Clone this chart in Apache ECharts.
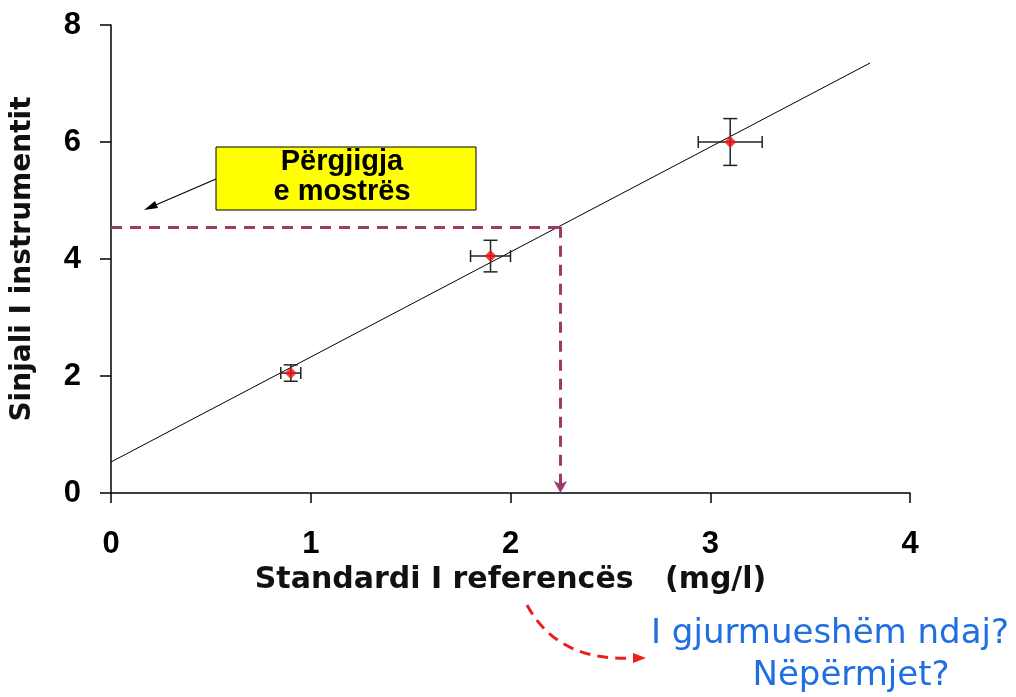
<!DOCTYPE html>
<html>
<head>
<meta charset="utf-8">
<script src="https://cdn.jsdelivr.net/npm/echarts@6/dist/echarts.min.js"></script>
<style>
  html, body { margin: 0; padding: 0; background: #fff; }
  #chart { width: 1016px; height: 697px; }
</style>
</head>
<body>
<div id="chart"></div>
<script>
// standards: concentration, signal, and their uncertainties
var standardX = [0.9, 1.9, 3.1];
var signalY = [2.05, 4.05, 6.0];
var errX = [0.05, 0.1, 0.16];
var errY = [0.14, 0.27, 0.4];

// calibration line end points
var fitLine = [[0, 0.53], [3.8, 7.35]];

// sample response read back on the line
var sampleSignal = 4.55;
var sampleConc = 2.25;

var xTicks = [0, 1, 2, 3, 4];
var yTicks = [0, 2, 4, 6, 8];

var chart = echarts.init(document.getElementById('chart'));

var points = standardX.map(function (x, i) {
  return [x, signalY[i], errX[i], errY[i]];
});

var tickFont = { fontFamily: 'Liberation Sans', fontWeight: 'bold', fontSize: 31, color: '#000' };
var dashColor = '#9b3a6b';

chart.setOption({
  animation: false,
  grid: { left: 111, right: 106, top: 25, bottom: 204 },
  xAxis: {
    type: 'value',
    min: xTicks[0],
    max: xTicks[xTicks.length - 1],
    interval: 1,
    name: 'Standardi I referencës   (mg/l)',
    nameLocation: 'middle',
    nameGap: 70,
    nameTextStyle: { fontFamily: 'DejaVu Sans', fontWeight: 'bold', fontSize: 30, color: '#111' },
    axisLine: { lineStyle: { color: '#000', width: 1.5 } },
    axisTick: { show: true, length: 10, lineStyle: { color: '#000', width: 1.5 } },
    axisLabel: Object.assign({ margin: 36 }, tickFont),
    splitLine: { show: false }
  },
  yAxis: {
    type: 'value',
    min: yTicks[0],
    max: yTicks[yTicks.length - 1],
    interval: 2,
    name: 'Sinjali I instrumentit',
    nameLocation: 'middle',
    nameGap: 74,
    nameTextStyle: { fontFamily: 'DejaVu Sans', fontWeight: 'bold', fontSize: 28, color: '#111' },
    axisLine: { show: true, lineStyle: { color: '#000', width: 1.5 } },
    axisTick: { show: true, length: 11, lineStyle: { color: '#000', width: 1.5 } },
    axisLabel: Object.assign({ margin: 30 }, tickFont),
    splitLine: { show: false }
  },
  series: [
    {
      type: 'line',
      data: fitLine,
      symbol: 'none',
      lineStyle: { color: '#000', width: 1 },
      z: 2,
      markLine: {
        silent: true,
        symbol: ['none', 'none'],
        label: { show: false },
        lineStyle: { color: dashColor, width: 3, type: [11, 8] },
        data: [
          [{ coord: [0, sampleSignal], symbol: 'none' }, { coord: [sampleConc, sampleSignal], symbol: 'none' }],
          [{ coord: [sampleConc, sampleSignal], symbol: 'none' }, { coord: [sampleConc, 0], symbol: 'arrow', symbolSize: [10, 12] }]
        ]
      }
    },
    {
      type: 'custom',
      data: points,
      z: 3,
      renderItem: function (params, api) {
        var x = api.value(0), y = api.value(1), ex = api.value(2), ey = api.value(3);
        var l = api.coord([x - ex, y]);
        var r = api.coord([x + ex, y]);
        var t = api.coord([x, y + ey]);
        var b = api.coord([x, y - ey]);
        var capH = 6, capV = 7;
        var style = { stroke: '#222', lineWidth: 1.5 };
        return {
          type: 'group',
          children: [
            { type: 'line', shape: { x1: l[0], y1: l[1], x2: r[0], y2: r[1] }, style: style },
            { type: 'line', shape: { x1: l[0], y1: l[1] - capH, x2: l[0], y2: l[1] + capH }, style: style },
            { type: 'line', shape: { x1: r[0], y1: r[1] - capH, x2: r[0], y2: r[1] + capH }, style: style },
            { type: 'line', shape: { x1: t[0], y1: t[1], x2: b[0], y2: b[1] }, style: style },
            { type: 'line', shape: { x1: t[0] - capV, y1: t[1], x2: t[0] + capV, y2: t[1] }, style: style },
            { type: 'line', shape: { x1: b[0] - capV, y1: b[1], x2: b[0] + capV, y2: b[1] }, style: style }
          ]
        };
      }
    },
    {
      type: 'scatter',
      data: points.map(function (p) { return [p[0], p[1]]; }),
      symbol: 'diamond',
      symbolSize: 12,
      itemStyle: { color: '#ee1111' },
      z: 4
    }
  ],
  graphic: [
    {
      type: 'rect',
      shape: { x: 216, y: 147, width: 260, height: 63 },
      style: { fill: '#ffff00', stroke: '#000', lineWidth: 1 },
      z: 10
    },
    {
      type: 'text',
      x: 342, y: 177,
      style: {
        text: 'Përgjigja\ne mostrës',
        font: 'bold 29px "Liberation Sans"',
        fill: '#000',
        align: 'center',
        verticalAlign: 'middle',
        lineHeight: 30
      },
      z: 11
    },
    {
      type: 'line',
      shape: { x1: 216, y1: 179, x2: 151, y2: 207 },
      style: { stroke: '#000', lineWidth: 1.2 },
      z: 10
    },
    {
      type: 'polygon',
      shape: { points: [[144, 210], [155, 201], [158, 208]] },
      style: { fill: '#000' },
      z: 10
    },
    {
      type: 'bezierCurve',
      shape: { x1: 527, y1: 605, cpx1: 558, cpy1: 662, x2: 633, y2: 658 },
      style: { stroke: '#e8211e', lineWidth: 3, lineDash: [11, 7], fill: null },
      z: 10
    },
    {
      type: 'polygon',
      shape: { points: [[646, 658], [633, 653], [633, 663]] },
      style: { fill: '#e8211e' },
      z: 10
    },
    {
      type: 'text',
      x: 830, y: 634,
      style: {
        text: 'I gjurmueshëm ndaj?',
        font: '34px "DejaVu Sans"',
        fill: '#1f6fe0',
        align: 'center',
        verticalAlign: 'middle'
      },
      z: 10
    },
    {
      type: 'text',
      x: 851, y: 676,
      style: {
        text: 'Nëpërmjet?',
        font: '34px "DejaVu Sans"',
        fill: '#1f6fe0',
        align: 'center',
        verticalAlign: 'middle'
      },
      z: 10
    }
  ]
});
</script>
</body>
</html>
